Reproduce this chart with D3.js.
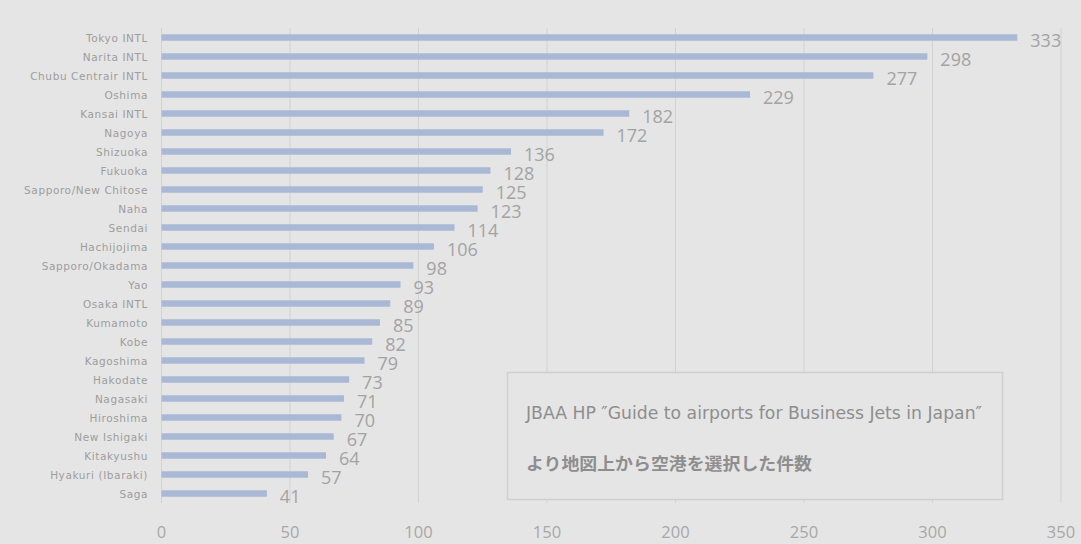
<!DOCTYPE html>
<html>
<head>
<meta charset="utf-8">
<script src="https://cdnjs.cloudflare.com/ajax/libs/d3/7.8.5/d3.min.js"></script>
<style>
	body{margin:0;background:#e5e5e5;}
	svg{display:block;}
</style>
</head>
<body>
<div id="chart"></div>
<script>
// airports and counts, top to bottom
let airports = ["Tokyo INTL","Narita INTL","Chubu Centrair INTL","Oshima","Kansai INTL","Nagoya","Shizuoka","Fukuoka",
	"Sapporo/New Chitose","Naha","Sendai","Hachijojima","Sapporo/Okadama","Yao","Osaka INTL","Kumamoto","Kobe",
	"Kagoshima","Hakodate","Nagasaki","Hiroshima","New Ishigaki","Kitakyushu","Hyakuri (Ibaraki)","Saga"];
let counts = [333,298,277,229,182,172,136,128,125,123,114,106,98,93,89,85,82,79,73,71,70,67,64,57,41];
let xTicks = [0,50,100,150,200,250,300,350];
let noteLines = ["JBAA HP ″Guide to airports for Business Jets in Japan″", "より地図上から空港を選択した件数"];

let w = 1081,
	h = 544,
	margin = {top:28, right:20, bottom:41, left:161.5},
	gridColor = "#d2d2d2",
	barColor = "#a9b9d5";

let svg = d3.select("#chart").append("svg").attr("width", w).attr("height", h);
svg.append("rect").attr("width", w).attr("height", h).style("fill", "#e5e5e5");

let scaleX = d3.scaleLinear().domain([0, 350]).range([margin.left, 1061]);
let scaleY = d3.scaleBand().domain(airports).range([margin.top, h - margin.bottom]).paddingInner(0.66).paddingOuter(0.33);

// vertical gridlines
svg.append("g").selectAll("line").data(xTicks).enter().append("line")
	.attr("x1", d => scaleX(d)).attr("x2", d => scaleX(d))
	.attr("y1", margin.top).attr("y2", h - margin.bottom)
	.style("stroke", gridColor).style("stroke-width", 1);

// x tick labels
svg.append("g").selectAll("text").data(xTicks).enter().append("text")
	.attr("x", d => scaleX(d)).attr("y", 531)
	.attr("text-anchor", "middle").attr("dominant-baseline", "central")
	.style("font-family", "Open Sans, Liberation Sans").style("font-size", "16.5px").style("fill", "#a8a8a8")
	.text(d => d);

// category labels
svg.append("g").selectAll("text").data(airports).enter().append("text")
	.attr("x", 148).attr("y", d => scaleY(d) + scaleY.bandwidth()/2)
	.attr("text-anchor", "end").attr("dominant-baseline", "central")
	.style("font-family", "DejaVu Sans").style("font-size", "10.5px").style("letter-spacing", "0.6px")
	.style("fill", "#9d9d9d")
	.text(d => d);

// bars
svg.append("g").selectAll("rect").data(airports).enter().append("rect")
	.attr("x", scaleX(0)).attr("y", (d) => scaleY(d))
	.attr("width", (d, i) => scaleX(counts[i]) - scaleX(0))
	.attr("height", scaleY.bandwidth())
	.style("fill", barColor);

// value labels
svg.append("g").selectAll("text").data(airports).enter().append("text")
	.attr("x", (d, i) => scaleX(counts[i]) + 13)
	.attr("y", d => scaleY(d) + scaleY.bandwidth()/2 + 2)
	.attr("dominant-baseline", "central")
	.style("font-family", "Open Sans, Liberation Sans").style("font-size", "18px").style("fill", "#a3a3a3")
	.text((d, i) => counts[i]);

// note box
let box = svg.append("g");
box.append("rect").attr("x", 507.5).attr("y", 372.5).attr("width", 495).attr("height", 127)
	.style("fill", "#e5e5e5").style("stroke", "#d0d0d0").style("stroke-width", 1.5);
box.append("text").attr("x", 526).attr("y", 412).attr("dominant-baseline", "central")
	.attr("textLength", 456).attr("lengthAdjust", "spacingAndGlyphs")
	.style("font-family", "DejaVu Sans Condensed, DejaVu Sans").style("font-size", "18px").style("fill", "#8e8e8e")
	.text(noteLines[0]);
box.append("text").attr("x", 526).attr("y", 462).attr("dominant-baseline", "central")
	.attr("textLength", 286).attr("lengthAdjust", "spacingAndGlyphs")
	.style("font-family", "Noto Sans CJK JP").style("font-weight", "bold").style("font-size", "17px").style("fill", "#8e8e8e")
	.text(noteLines[1]);
</script>
</body>
</html>
